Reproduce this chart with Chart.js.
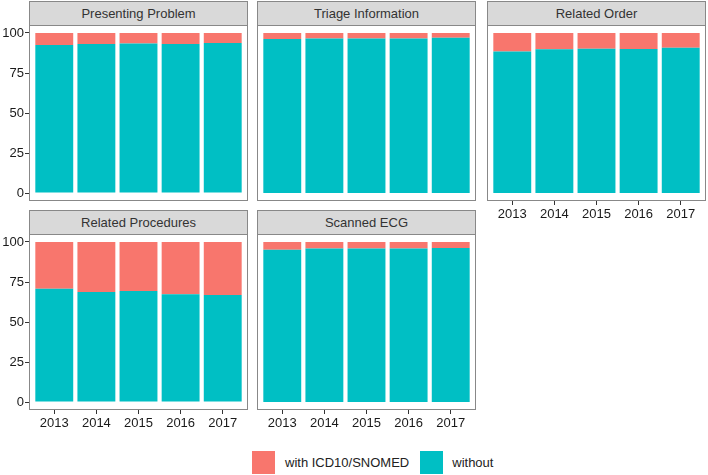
<!DOCTYPE html>
<html>
<head>
<meta charset="utf-8">
<script src="https://cdn.jsdelivr.net/npm/chart.js@4/dist/chart.umd.min.js"></script>
<style>
  body { margin: 0; background: #fff; font-family: "Liberation Sans", Arial, sans-serif; }
  #page { position: relative; width: 708px; height: 475px; }
  .strip { position: absolute; background: #d9d9d9; border: 1px solid #888; border-bottom-color: #555;
           box-sizing: border-box; font-size: 13px; color: #333; text-align: center; line-height: 23px; }
  .box { position: absolute; }
  .legend { position: absolute; top: 451px; font-size: 13px; color: #222; display: flex; align-items: center; }
  .key { width: 23px; height: 23px; margin-right: 10px; }
</style>
</head>
<body>
<div id="page"></div>
<script>
// data
const years = [2013, 2014, 2015, 2016, 2017];
const facets = ['Presenting Problem', 'Triage Information', 'Related Order', 'Related Procedures', 'Scanned ECG'];
const seriesNames = ['with ICD10/SNOMED', 'without'];
const yTicks = [0, 25, 50, 75, 100];

const withoutPresenting = [92.5, 93.1, 93.5, 93.1, 93.8];
const withPresenting = [7.5, 6.9, 6.5, 6.9, 6.2];
const withoutTriage = [96.2, 96.5, 96.5, 96.5, 97.1];
const withTriage = [3.8, 3.5, 3.5, 3.5, 2.9];
const withoutOrder = [88.5, 89.8, 90.2, 90.0, 90.8];
const withOrder = [11.5, 10.2, 9.8, 10.0, 9.2];
const withoutProcedures = [70.8, 68.8, 69.4, 67.3, 66.9];
const withProcedures = [29.2, 31.2, 30.6, 32.7, 33.1];
const withoutECG = [95.2, 96.0, 96.0, 96.0, 96.2];
const withECG = [4.8, 4.0, 4.0, 4.0, 3.8];

const withoutAll = [withoutPresenting, withoutTriage, withoutOrder, withoutProcedures, withoutECG];
const withAll = [withPresenting, withTriage, withOrder, withProcedures, withECG];

const red = '#F8766D';
const teal = '#00BFC4';

const page = document.getElementById('page');

// panel geometry (ggplot facet_wrap layout)
const colX = [29, 257, 487];
const panelW = 219;
const rows = [{ strip: 1, top: 25 }, { strip: 210, top: 234 }];
const panelH = 176;
const yAxisW = 29;
const xAxisH = 26;

const framePlugin = {
  id: 'frame',
  afterDraw(chart) {
    const a = chart.chartArea;
    const ctx = chart.ctx;
    ctx.save();
    ctx.strokeStyle = '#888';
    ctx.lineWidth = 1;
    ctx.strokeRect(Math.round(a.left) + 0.5, Math.round(a.top) + 0.5, Math.round(a.right - a.left) - 1, Math.round(a.bottom - a.top) - 1);
    ctx.restore();
  }
};

facets.forEach((name, i) => {
  const col = i % 3;
  const row = Math.floor(i / 3);
  const showY = col === 0;
  const showX = row === 1 || col === 2;

  const strip = document.createElement('div');
  strip.className = 'strip';
  strip.style.left = colX[col] + 'px';
  strip.style.top = rows[row].strip + 'px';
  strip.style.width = panelW + 'px';
  strip.style.height = (rows[row].top - rows[row].strip + 1) + 'px';
  strip.textContent = name;
  page.appendChild(strip);

  const box = document.createElement('div');
  box.className = 'box';
  const left = showY ? colX[col] - yAxisW : colX[col];
  box.style.left = left + 'px';
  box.style.top = rows[row].top + 'px';
  box.style.width = (panelW + (showY ? yAxisW : 0)) + 'px';
  box.style.height = (panelH + (showX ? xAxisH : 0)) + 'px';
  const canvas = document.createElement('canvas');
  box.appendChild(canvas);
  page.appendChild(box);

  new Chart(canvas, {
    type: 'bar',
    data: {
      datasets: [
        {
          label: seriesNames[1],
          data: years.map((y, k) => ({ x: y, y: withoutAll[i][k] })),
          backgroundColor: teal,
          barPercentage: 0.9,
          categoryPercentage: 1
        },
        {
          label: seriesNames[0],
          data: years.map((y, k) => ({ x: y, y: withAll[i][k] })),
          backgroundColor: red,
          barPercentage: 0.9,
          categoryPercentage: 1
        }
      ]
    },
    options: {
      responsive: true,
      maintainAspectRatio: false,
      animation: false,
      layout: { padding: 0 },
      plugins: { legend: { display: false }, tooltip: { enabled: false } },
      scales: {
        x: {
          type: 'linear',
          stacked: true,
          offset: false,
          min: 2012.4,
          max: 2017.6,
          display: showX,
          afterBuildTicks: s => { s.ticks = years.map(v => ({ value: v })); },
          afterFit: s => { s.height = showX ? xAxisH : 0; s.paddingLeft = 0; s.paddingRight = 0; },
          grid: { drawOnChartArea: false, offset: false, tickLength: 4, color: '#333' },
          border: { display: false },
          ticks: { callback: v => String(v), color: '#1a1a1a', font: { family: 'Liberation Sans', size: 13 }, padding: 2, maxRotation: 0, autoSkip: false }
        },
        y: {
          stacked: true,
          min: -5,
          max: 105,
          display: showY,
          afterBuildTicks: s => { s.ticks = yTicks.map(v => ({ value: v })); },
          afterFit: s => { s.width = showY ? yAxisW : 0; s.paddingTop = 0; s.paddingBottom = 0; },
          grid: { drawOnChartArea: false, tickLength: 4, color: '#333' },
          border: { display: false },
          ticks: { color: '#1a1a1a', font: { family: 'Liberation Sans', size: 13 }, padding: 1 }
        }
      }
    },
    plugins: [framePlugin]
  });
});

// legend
const legend = document.createElement('div');
legend.className = 'legend';
legend.style.left = '252px';
legend.innerHTML =
  '<span class="key" style="background:' + red + '"></span><span style="margin-right:11px">' + seriesNames[0] + '</span>' +
  '<span class="key" style="background:' + teal + ';margin-right:9px"></span><span>' + seriesNames[1] + '</span>';
page.appendChild(legend);
</script>
</body>
</html>
